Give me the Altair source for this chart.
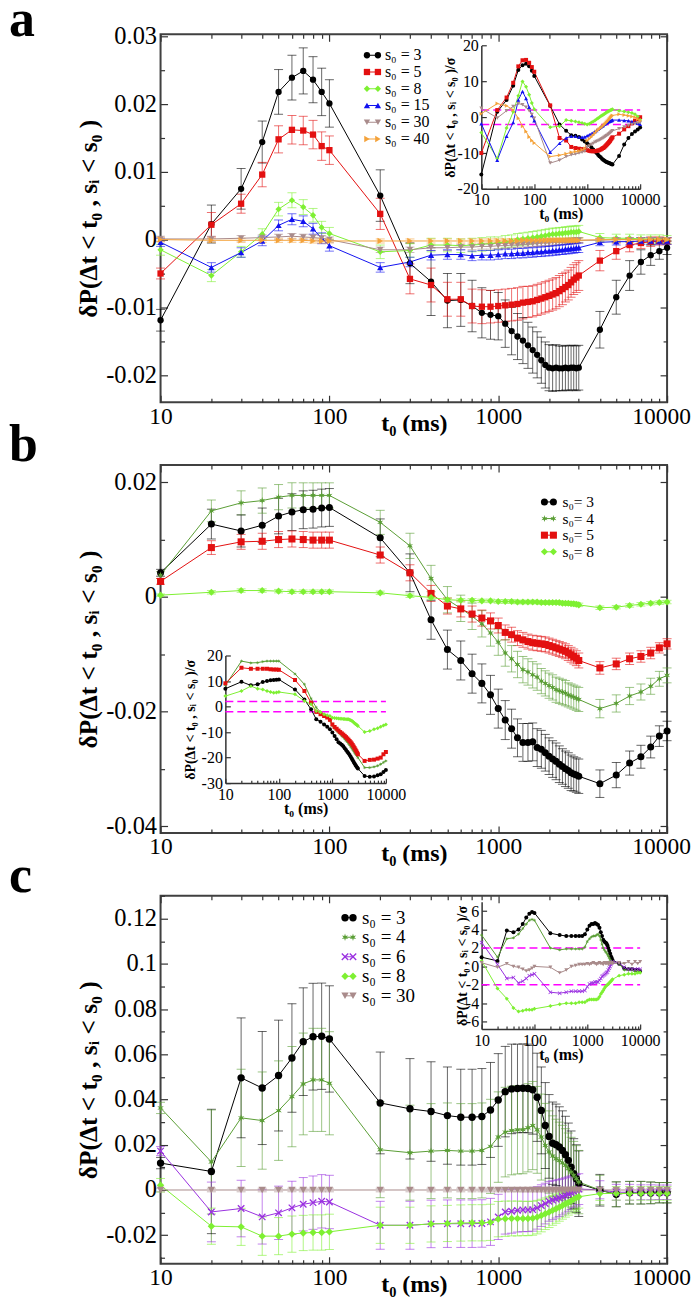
import altair as alt
import pandas as pd

FONT = "Liberation Serif"
W = 508

T = [10, 20, 30, 40, 50, 60, 70, 80, 90, 100,
     200, 300, 400, 500, 600, 700, 800, 900,
     1000, 1100, 1200, 1300, 1400, 1500, 1600, 1700, 1800, 1900, 2000,
     2100, 2200, 2300, 2400, 2500, 2600, 2700, 2800, 2900, 3000,
     4000, 5000, 6000, 7000, 8000, 9000, 10000]
X_LABELS = [10, 100, 1000, 10000]
X_TICKS = [10, 20, 30, 40, 50, 60, 70, 80, 90, 100, 200, 300, 400, 500, 600, 700, 800, 900,
           1000, 2000, 3000, 4000, 5000, 6000, 7000, 8000, 9000, 10000]

# ---------------- panel a ----------------
A_LABELS = ["s₀ = 3", "s₀ = 5", "s₀ = 8", "s₀ = 15", "s₀ = 30", "s₀ = 40"]
A3 = [-0.0119, 0.0023, 0.0075, 0.0144, 0.0218, 0.0239, 0.0249, 0.0236, 0.0218, 0.0201,
      0.0065, -0.0035, -0.0062, -0.0090, -0.0089, -0.0098, -0.0108, -0.0111,
      -0.0113, -0.0124, -0.0135, -0.0143, -0.0149, -0.0156, -0.0163, -0.0170, -0.0178, -0.0185, -0.0189,
      -0.0190, -0.0189, -0.0190, -0.0190, -0.0189, -0.0190, -0.0189, -0.0189, -0.0190, -0.0189,
      -0.0133, -0.0085, -0.0053, -0.0033, -0.0023, -0.0017, -0.0012]
A3E = [0.0016, 0.0028, 0.0030, 0.0031, 0.0033, 0.0033, 0.0034, 0.0034, 0.0035, 0.0035,
       0.0038, 0.0030, 0.0050, 0.0040, 0.0039, 0.0038, 0.0037, 0.0036,
       0.0035, 0.0035, 0.0035, 0.0034, 0.0034, 0.0034, 0.0034, 0.0034, 0.0034, 0.0034, 0.0034,
       0.0034, 0.0034, 0.0033, 0.0033, 0.0033, 0.0033, 0.0033, 0.0033, 0.0033, 0.0033,
       0.0027, 0.0025, 0.0022, 0.0018, 0.0015, 0.0012, 0.0010]
A5 = [-0.0050, 0.0022, 0.0053, 0.0096, 0.0148, 0.0162, 0.0161, 0.0155, 0.0138, 0.0132,
      0.0038, -0.0058, -0.0067, -0.0088, -0.0088, -0.0098, -0.0099, -0.0099,
      -0.0098, -0.0097, -0.0096, -0.0095, -0.0093, -0.0092, -0.0091, -0.0089, -0.0087, -0.0085, -0.0083,
      -0.0081, -0.0079, -0.0076, -0.0073, -0.0070, -0.0067, -0.0063, -0.0059, -0.0056, -0.0053,
      -0.0031, -0.0017, -0.0008, -0.0005, -0.0003, -0.0002, -0.0002]
A5E = [0.0008, 0.0018, 0.0014, 0.0018, 0.0020, 0.0021, 0.0021, 0.0021, 0.0021, 0.0021,
       0.0023, 0.0022, 0.0025, 0.0025, 0.0025, 0.0025, 0.0025, 0.0024,
       0.0024, 0.0024, 0.0024, 0.0024, 0.0024, 0.0023, 0.0023, 0.0023, 0.0023, 0.0023, 0.0023,
       0.0023, 0.0023, 0.0023, 0.0023, 0.0022, 0.0022, 0.0022, 0.0022, 0.0022, 0.0022,
       0.0015, 0.0012, 0.0010, 0.0008, 0.0007, 0.0006, 0.0005]
A8 = [-0.0015, -0.0053, -0.0018, 0.0008, 0.0045, 0.0058, 0.0048, 0.0036, 0.0018, 0.0009,
      -0.0018, -0.0016, -0.0008, -0.0008, -0.0009, -0.0008, -0.0007, -0.0006,
      -0.0005, -0.0003, -0.0002, 0.0000, 0.0001, 0.0002, 0.0003, 0.0004, 0.0005, 0.0006, 0.0007,
      0.0008, 0.0008, 0.0009, 0.0009, 0.0010, 0.0010, 0.0011, 0.0011, 0.0011, 0.0012,
      0.0003, 0.0002, 0.0002, 0.0001, 0.0001, 0.0001, 0.0000]
A8E = [0.0008, 0.0009, 0.0008, 0.0008, 0.0010, 0.0011, 0.0011, 0.0010, 0.0009, 0.0009,
       0.0010, 0.0010, 0.0010, 0.0010, 0.0010, 0.0010, 0.0010, 0.0010,
       0.0009, 0.0009, 0.0009, 0.0009, 0.0009, 0.0009, 0.0009, 0.0009, 0.0009, 0.0009, 0.0009,
       0.0009, 0.0009, 0.0009, 0.0009, 0.0009, 0.0009, 0.0009, 0.0009, 0.0009, 0.0009,
       0.0006, 0.0006, 0.0006, 0.0006, 0.0006, 0.0006, 0.0006]
A15 = [-0.0004, -0.0041, -0.0019, -0.0002, 0.0021, 0.0030, 0.0027, 0.0016, 0.0002, -0.0009,
       -0.0041, -0.0033, -0.0023, -0.0022, -0.0022, -0.0024, -0.0023, -0.0023,
       -0.0022, -0.0021, -0.0021, -0.0020, -0.0020, -0.0019, -0.0019, -0.0018, -0.0018, -0.0017, -0.0017,
       -0.0016, -0.0016, -0.0015, -0.0015, -0.0014, -0.0014, -0.0013, -0.0013, -0.0012, -0.0012,
       -0.0004, -0.0003, -0.0003, -0.0002, -0.0002, -0.0002, -0.0002]
A15E = [0.0006, 0.0007, 0.0007, 0.0007, 0.0008, 0.0008, 0.0008, 0.0008, 0.0008, 0.0008,
        0.0007, 0.0007, 0.0007, 0.0007, 0.0007, 0.0007, 0.0007, 0.0007,
        0.0007, 0.0007, 0.0007, 0.0007, 0.0007, 0.0007, 0.0007, 0.0007, 0.0007, 0.0007, 0.0007,
        0.0007, 0.0007, 0.0007, 0.0007, 0.0007, 0.0007, 0.0007, 0.0007, 0.0007, 0.0007,
        0.0005, 0.0005, 0.0005, 0.0005, 0.0005, 0.0005, 0.0005]
A30 = [0.0001, 0.0001, 0.0002, 0.0003, 0.0004, 0.0005, 0.0004, 0.0003, 0.0002, 0.0000,
       -0.0015, -0.0015, -0.0012, -0.0012, -0.0011, -0.0011, -0.0010, -0.0010,
       -0.0009, -0.0009, -0.0008, -0.0008, -0.0007, -0.0007, -0.0006, -0.0006, -0.0005, -0.0005, -0.0005,
       -0.0004, -0.0004, -0.0003, -0.0003, -0.0003, -0.0002, -0.0002, -0.0002, -0.0001, -0.0001,
       -0.0001, 0.0000, 0.0000, 0.0000, 0.0000, 0.0000, 0.0000]
A30E = [0.0004, 0.0004, 0.0004, 0.0004, 0.0004, 0.0004, 0.0004, 0.0004, 0.0004, 0.0004,
        0.0004, 0.0004, 0.0004, 0.0004, 0.0004, 0.0004, 0.0004, 0.0004,
        0.0004, 0.0004, 0.0004, 0.0004, 0.0004, 0.0004, 0.0004, 0.0004, 0.0004, 0.0004, 0.0004,
        0.0004, 0.0004, 0.0004, 0.0004, 0.0004, 0.0004, 0.0004, 0.0004, 0.0004, 0.0004,
        0.0003, 0.0003, 0.0003, 0.0003, 0.0003, 0.0003, 0.0003]
A40 = [0.0000, -0.0001, -0.0001, -0.0001, -0.0001, -0.0001, -0.0001, -0.0002, -0.0002, -0.0002,
       -0.0002, -0.0002, -0.0002, -0.0002, -0.0002, -0.0002, -0.0002, -0.0002,
       -0.0002, -0.0002, -0.0002, -0.0002, -0.0001, -0.0001, -0.0001, -0.0001, -0.0001, -0.0001, -0.0001,
       -0.0001, -0.0001, -0.0001, -0.0001, -0.0001, -0.0001, -0.0001, -0.0001, -0.0001, -0.0001,
       0.0000, 0.0000, 0.0000, 0.0000, 0.0000, 0.0000, 0.0000]
A40E = [0.0003, 0.0003, 0.0003, 0.0003, 0.0003, 0.0003, 0.0003, 0.0003, 0.0003, 0.0003,
        0.0003, 0.0003, 0.0003, 0.0003, 0.0003, 0.0003, 0.0003, 0.0003,
        0.0003, 0.0003, 0.0003, 0.0003, 0.0003, 0.0003, 0.0003, 0.0003, 0.0003, 0.0003, 0.0003,
        0.0003, 0.0003, 0.0003, 0.0003, 0.0003, 0.0003, 0.0003, 0.0003, 0.0003, 0.0003,
        0.0002, 0.0002, 0.0002, 0.0002, 0.0002, 0.0002, 0.0002]
# inset a (in units of sigma)
IA3 = [-16.0, 1.5, 4.8, 8.8, 13.2, 14.5, 14.9, 14.2, 13.0, 11.5,
       3.2, -2.0, -3.8, -5.0, -5.2, -5.5, -6.2, -6.8,
       -7.3, -7.8, -8.4, -9.0, -9.6, -10.0, -10.5, -10.9, -11.2, -11.6, -11.9,
       -12.1, -12.3, -12.5, -12.6, -12.7, -12.8, -12.9, -13.0, -13.1, -13.2,
       -10.8, -7.6, -5.8, -4.7, -4.0, -3.4, -2.9]
IA5 = [-10.0, 2.0, 5.5, 9.6, 14.2, 15.9, 16.0, 15.2, 14.0, 12.7,
       3.3, -5.8, -6.5, -8.3, -8.6, -8.8, -8.9, -9.0,
       -9.2, -9.4, -9.5, -9.5, -9.5, -9.4, -9.3, -9.2, -9.0, -8.8, -8.6,
       -8.4, -8.1, -7.8, -7.5, -7.2, -6.9, -6.6, -6.2, -5.9, -5.6,
       -4.6, -3.4, -2.5, -1.7, -1.0, -0.5, 0.0]
IA8 = [-4.3, -11.5, -3.0, 1.5, 6.0, 10.0, 8.5, 6.3, 4.0, 2.2,
       -2.8, -2.5, -0.8, -1.0, -1.2, -1.4, -1.6, -1.8,
       -2.0, -1.8, -1.5, -1.2, -0.9, -0.6, -0.3, 0.0, 0.3, 0.5, 0.7,
       0.9, 1.1, 1.3, 1.5, 1.6, 1.8, 1.9, 2.0, 2.1, 2.2,
       1.8, 1.6, 1.4, 1.2, 0.8, 0.2, -0.8]
IA15 = [-1.8, -12.0, -5.3, -1.5, 4.8, 7.2, 5.2, 2.8, 0.5, -1.0,
        -9.8, -7.3, -5.8, -5.3, -5.3, -5.5, -5.6, -5.5,
        -5.2, -4.9, -4.6, -4.3, -4.0, -3.7, -3.4, -3.1, -2.8, -2.5, -2.3,
        -2.0, -1.8, -1.6, -1.4, -1.3, -1.2, -1.1, -1.0, -0.9, -0.8,
        -0.8, -0.9, -1.0, -1.2, -1.4, -1.7, -2.0]
IA30 = [2.5, -0.2, 1.8, 3.0, 3.8, 3.5, 2.8, 1.8, 0.8, -0.3,
        -12.8, -12.0, -11.0, -10.5, -10.3, -10.0, -9.8, -9.5,
        -8.4, -8.0, -7.6, -7.3, -7.0, -6.8, -6.6, -6.4, -6.2, -6.0, -5.8,
        -5.6, -5.4, -5.2, -5.0, -4.8, -4.6, -4.4, -4.2, -4.0, -3.8,
        -3.2, -2.7, -2.3, -2.0, -1.8, -1.6, -1.5]
IA40 = [1.0, 3.8, 3.2, 2.0, -0.3, -2.5, -4.0, -5.5, -6.5, -7.2,
        -11.0, -10.6, -10.2, -9.8, -9.6, -9.4, -9.1, -8.7,
        -6.5, -6.0, -5.5, -5.0, -4.5, -4.0, -3.6, -3.3, -3.0, -2.7, -2.4,
        -2.1, -1.8, -1.5, -1.2, -0.9, -0.6, -0.3, 0.0, 0.3, 0.5,
        0.8, 0.6, 0.4, 0.2, 0.0, -0.5, -1.0]

# ---------------- panel b ----------------
B_LABELS = ["s₀= 3", "s₀= 4", "s₀= 5", "s₀= 8"]
B3 = [0.0042, 0.0127, 0.0115, 0.0125, 0.0141, 0.0148, 0.0152, 0.0153, 0.0155, 0.0156,
      0.0103, 0.0042, -0.0040, -0.0092, -0.0111, -0.0134, -0.0151, -0.0171,
      -0.0195, -0.0215, -0.0230, -0.0246, -0.0254, -0.0254, -0.0253, -0.0263, -0.0266, -0.0272, -0.0278,
      -0.0283, -0.0287, -0.0292, -0.0296, -0.0300, -0.0303, -0.0307, -0.0309, -0.0311, -0.0313,
      -0.0326, -0.0311, -0.0290, -0.0279, -0.0262, -0.0243, -0.0234]
B3E = [0.0006, 0.0026, 0.0028, 0.0030, 0.0031, 0.0032, 0.0033, 0.0033, 0.0033, 0.0033,
       0.0033, 0.0033, 0.0034, 0.0034, 0.0034, 0.0034, 0.0034, 0.0034,
       0.0034, 0.0034, 0.0034, 0.0033, 0.0033, 0.0033, 0.0033, 0.0033, 0.0033, 0.0032, 0.0032,
       0.0032, 0.0032, 0.0032, 0.0031, 0.0031, 0.0031, 0.0031, 0.0030, 0.0030, 0.0030,
       0.0024, 0.0022, 0.0021, 0.0020, 0.0019, 0.0018, 0.0017]
B4 = [0.0038, 0.0150, 0.0164, 0.0168, 0.0174, 0.0177, 0.0177, 0.0177, 0.0177, 0.0177,
      0.0130, 0.0089, 0.0032, -0.0005, -0.0020, -0.0034, -0.0047, -0.0063,
      -0.0079, -0.0098, -0.0108, -0.0118, -0.0127, -0.0131, -0.0136, -0.0140, -0.0147, -0.0151, -0.0155,
      -0.0158, -0.0162, -0.0164, -0.0166, -0.0168, -0.0171, -0.0173, -0.0175, -0.0177, -0.0179,
      -0.0195, -0.0186, -0.0173, -0.0166, -0.0156, -0.0143, -0.0137]
B4E = [0.0006, 0.0019, 0.0021, 0.0022, 0.0022, 0.0022, 0.0022, 0.0022, 0.0022, 0.0022,
       0.0021, 0.0022, 0.0023, 0.0023, 0.0023, 0.0023, 0.0023, 0.0023,
       0.0023, 0.0023, 0.0023, 0.0023, 0.0023, 0.0023, 0.0023, 0.0023, 0.0022, 0.0022, 0.0022,
       0.0022, 0.0022, 0.0022, 0.0022, 0.0022, 0.0021, 0.0021, 0.0021, 0.0021, 0.0021,
       0.0016, 0.0015, 0.0015, 0.0014, 0.0014, 0.0013, 0.0013]
B5 = [0.0027, 0.0086, 0.0096, 0.0097, 0.0100, 0.0101, 0.0100, 0.0099, 0.0099, 0.0099,
      0.0073, 0.0042, 0.0006, -0.0016, -0.0021, -0.0030, -0.0037, -0.0042,
      -0.0050, -0.0062, -0.0066, -0.0072, -0.0075, -0.0078, -0.0080, -0.0081, -0.0082, -0.0083, -0.0085,
      -0.0087, -0.0089, -0.0091, -0.0093, -0.0095, -0.0098, -0.0101, -0.0104, -0.0107, -0.0111,
      -0.0124, -0.0117, -0.0108, -0.0104, -0.0098, -0.0089, -0.0082]
B5E = [0.0005, 0.0012, 0.0013, 0.0014, 0.0014, 0.0014, 0.0014, 0.0014, 0.0014, 0.0014,
       0.0014, 0.0014, 0.0014, 0.0014, 0.0014, 0.0014, 0.0014, 0.0014,
       0.0013, 0.0013, 0.0013, 0.0013, 0.0013, 0.0013, 0.0013, 0.0013, 0.0013, 0.0013, 0.0013,
       0.0013, 0.0013, 0.0013, 0.0013, 0.0013, 0.0013, 0.0013, 0.0013, 0.0013, 0.0013,
       0.0011, 0.0010, 0.0010, 0.0010, 0.0010, 0.0009, 0.0009]
B8 = [0.0003, 0.0008, 0.0011, 0.0011, 0.0010, 0.0009, 0.0009, 0.0009, 0.0009, 0.0009,
      0.0007, 0.0002, -0.0001, -0.0005, -0.0006, -0.0006, -0.0007, -0.0007,
      -0.0008, -0.0008, -0.0008, -0.0009, -0.0009, -0.0009, -0.0009, -0.0009, -0.0010, -0.0010, -0.0010,
      -0.0010, -0.0010, -0.0010, -0.0011, -0.0011, -0.0011, -0.0012, -0.0012, -0.0013, -0.0014,
      -0.0019, -0.0018, -0.0015, -0.0013, -0.0011, -0.0010, -0.0009]
B8E = [0.0002, 0.0003, 0.0003, 0.0003, 0.0003, 0.0003, 0.0003, 0.0003, 0.0003, 0.0003,
       0.0003, 0.0003, 0.0003, 0.0003, 0.0003, 0.0003, 0.0003, 0.0003,
       0.0003, 0.0003, 0.0003, 0.0003, 0.0003, 0.0003, 0.0003, 0.0003, 0.0003, 0.0003, 0.0003,
       0.0003, 0.0003, 0.0003, 0.0003, 0.0003, 0.0003, 0.0003, 0.0003, 0.0003, 0.0003,
       0.0003, 0.0003, 0.0003, 0.0003, 0.0003, 0.0003, 0.0003]
IB3 = [7.0, 9.7, 8.3, 8.7, 9.6, 10.0, 10.3, 10.4, 10.5, 10.6,
       6.7, 2.8, -1.1, -5.0, -6.0, -7.0, -7.9, -8.9,
       -10.2, -11.5, -12.8, -14.0, -14.5, -15.0, -15.6, -16.3, -17.0, -17.7, -18.3,
       -19.0, -19.7, -20.4, -21.0, -21.7, -22.3, -22.9, -23.4, -23.9, -24.3,
       -27.2, -27.5, -27.4, -26.9, -26.5, -25.6, -24.9]
IB4 = [8.3, 17.8, 17.1, 17.2, 17.6, 17.8, 17.8, 17.8, 17.8, 17.8,
       12.8, 8.7, 3.1, -0.4, -2.1, -3.1, -4.0, -5.6,
       -7.6, -8.6, -9.4, -10.2, -10.9, -11.5, -12.1, -12.7, -13.3, -13.9, -14.5,
       -15.1, -15.7, -16.3, -16.9, -17.5, -18.0, -18.5, -19.0, -19.5, -20.0,
       -23.9, -23.9, -23.6, -23.2, -22.6, -21.9, -21.3]
IB5 = [9.1, 15.2, 14.8, 14.8, 14.8, 14.8, 14.6, 14.5, 14.5, 14.4,
       10.4, 6.1, 1.5, -2.1, -3.0, -3.7, -4.3, -5.2,
       -7.0, -8.0, -8.7, -9.4, -10.0, -10.5, -11.0, -11.5, -12.0, -12.5, -13.0,
       -13.5, -14.0, -14.5, -15.1, -15.7, -16.3, -16.9, -17.5, -18.1, -18.7,
       -21.3, -20.9, -20.8, -20.4, -20.0, -18.7, -17.8]
IB8 = [4.1, 6.1, 8.0, 7.0, 6.7, 6.1, 5.7, 5.4, 5.5, 5.7,
       4.8, 2.2, 0.9, -1.7, -2.2, -3.0, -3.4, -3.7,
       -4.4, -4.5, -4.6, -4.7, -4.8, -4.8, -4.9, -4.9, -5.0, -5.0, -5.0,
       -5.2, -5.4, -5.6, -5.9, -6.2, -6.5, -6.8, -7.0, -7.3, -7.6,
       -10.0, -9.6, -8.9, -8.5, -7.9, -7.4, -7.0]

# ---------------- panel c ----------------
C_LABELS = ["s₀ = 3", "s₀ = 4", "s₀ = 6", "s₀ = 8", "s₀ = 30"]
C3 = [0.0119, 0.0082, 0.0496, 0.0451, 0.0506, 0.0584, 0.0656, 0.0678, 0.0680, 0.0668,
      0.0385, 0.0359, 0.0347, 0.0329, 0.0322, 0.0322, 0.0325, 0.0354,
      0.0398, 0.0435, 0.0447, 0.0449, 0.0450, 0.0449, 0.0443, 0.0410, 0.0352, 0.0285, 0.0237,
      0.0207, 0.0200, 0.0190, 0.0175, 0.0156, 0.0131, 0.0101, 0.0072, 0.0050, 0.0028,
      -0.0001, -0.0019, -0.0012, -0.0012, -0.0013, -0.0012, -0.0012]
C3E = [0.0025, 0.0275, 0.0265, 0.0250, 0.0245, 0.0240, 0.0238, 0.0236, 0.0235, 0.0235,
       0.0225, 0.0222, 0.0220, 0.0215, 0.0212, 0.0212, 0.0212, 0.0210,
       0.0205, 0.0200, 0.0198, 0.0196, 0.0196, 0.0196, 0.0196, 0.0195, 0.0192, 0.0190, 0.0185,
       0.0182, 0.0180, 0.0178, 0.0175, 0.0170, 0.0165, 0.0160, 0.0155, 0.0150, 0.0145,
       0.0070, 0.0055, 0.0050, 0.0050, 0.0048, 0.0045, 0.0045]
C4 = [0.0363, 0.0124, 0.0319, 0.0307, 0.0351, 0.0413, 0.0469, 0.0487, 0.0487, 0.0472,
      0.0178, 0.0165, 0.0172, 0.0175, 0.0172, 0.0172, 0.0175, 0.0193,
      0.0234, 0.0256, 0.0263, 0.0266, 0.0267, 0.0275, 0.0285, 0.0266, 0.0234, 0.0197, 0.0168,
      0.0150, 0.0138, 0.0130, 0.0120, 0.0109, 0.0094, 0.0079, 0.0065, 0.0050, 0.0035,
      0.0000, -0.0019, -0.0012, -0.0012, -0.0012, -0.0012, -0.0012]
C4E = [0.0025, 0.0230, 0.0215, 0.0215, 0.0220, 0.0222, 0.0225, 0.0228, 0.0228, 0.0228,
       0.0212, 0.0210, 0.0210, 0.0210, 0.0210, 0.0210, 0.0210, 0.0208,
       0.0200, 0.0198, 0.0196, 0.0195, 0.0195, 0.0195, 0.0195, 0.0192, 0.0190, 0.0186, 0.0182,
       0.0178, 0.0175, 0.0170, 0.0166, 0.0162, 0.0158, 0.0154, 0.0150, 0.0146, 0.0140,
       0.0065, 0.0055, 0.0050, 0.0050, 0.0048, 0.0045, 0.0045]
C6 = [0.0172, -0.0097, -0.0082, -0.0119, -0.0101, -0.0079, -0.0063, -0.0056, -0.0050, -0.0053,
      -0.0156, -0.0156, -0.0150, -0.0149, -0.0149, -0.0149, -0.0148, -0.0141,
      -0.0119, -0.0097, -0.0094, -0.0090, -0.0088, -0.0088, -0.0087, -0.0079, -0.0069, -0.0060, -0.0050,
      -0.0045, -0.0040, -0.0035, -0.0030, -0.0024, -0.0018, -0.0012, -0.0006, -0.0001, 0.0004,
      0.0001, -0.0010, -0.0010, -0.0010, -0.0010, -0.0010, -0.0010]
C6E = [0.0020, 0.0132, 0.0125, 0.0120, 0.0118, 0.0118, 0.0118, 0.0118, 0.0118, 0.0118,
       0.0106, 0.0106, 0.0105, 0.0105, 0.0105, 0.0105, 0.0105, 0.0104,
       0.0100, 0.0098, 0.0097, 0.0096, 0.0096, 0.0096, 0.0095, 0.0094, 0.0092, 0.0090, 0.0088,
       0.0086, 0.0084, 0.0082, 0.0080, 0.0078, 0.0076, 0.0074, 0.0072, 0.0070, 0.0068,
       0.0040, 0.0035, 0.0035, 0.0033, 0.0033, 0.0032, 0.0032]
C8 = [0.0021, -0.0160, -0.0163, -0.0204, -0.0204, -0.0195, -0.0190, -0.0188, -0.0188, -0.0185,
      -0.0156, -0.0156, -0.0150, -0.0148, -0.0146, -0.0145, -0.0145, -0.0143,
      -0.0129, -0.0127, -0.0126, -0.0126, -0.0126, -0.0126, -0.0125, -0.0120, -0.0113, -0.0105, -0.0098,
      -0.0090, -0.0083, -0.0076, -0.0069, -0.0062, -0.0055, -0.0048, -0.0041, -0.0035, -0.0030,
      -0.0016, -0.0015, -0.0015, -0.0015, -0.0015, -0.0015, -0.0015]
C8E = [0.0030, 0.0080, 0.0082, 0.0085, 0.0082, 0.0080, 0.0078, 0.0078, 0.0078, 0.0078,
       0.0080, 0.0080, 0.0080, 0.0080, 0.0080, 0.0080, 0.0080, 0.0080,
       0.0078, 0.0078, 0.0077, 0.0077, 0.0076, 0.0076, 0.0075, 0.0074, 0.0072, 0.0070, 0.0068,
       0.0066, 0.0064, 0.0062, 0.0060, 0.0058, 0.0056, 0.0054, 0.0052, 0.0051, 0.0050,
       0.0030, 0.0030, 0.0030, 0.0030, 0.0030, 0.0030, 0.0030]
C30 = [0.0000, 0.0000, 0.0000, 0.0000, 0.0000, 0.0000, 0.0000, 0.0000, 0.0000, 0.0000,
       0.0000, 0.0000, 0.0000, 0.0000, 0.0000, 0.0000, 0.0000, 0.0000,
       0.0000, 0.0000, 0.0000, 0.0000, 0.0000, 0.0000, 0.0000, 0.0000, 0.0000, 0.0000, 0.0000,
       0.0000, 0.0000, 0.0000, 0.0000, 0.0000, 0.0000, 0.0000, 0.0000, 0.0000, 0.0000,
       0.0000, 0.0000, 0.0000, 0.0000, 0.0000, 0.0000, 0.0000]
C30E = [0.0008, 0.0008, 0.0008, 0.0008, 0.0008, 0.0008, 0.0008, 0.0008, 0.0008, 0.0008,
        0.0008, 0.0008, 0.0008, 0.0008, 0.0008, 0.0008, 0.0008, 0.0008,
        0.0008, 0.0008, 0.0008, 0.0008, 0.0008, 0.0008, 0.0008, 0.0008, 0.0008, 0.0008, 0.0008,
        0.0008, 0.0008, 0.0008, 0.0008, 0.0008, 0.0008, 0.0008, 0.0008, 0.0008, 0.0008,
        0.0006, 0.0006, 0.0006, 0.0006, 0.0006, 0.0006, 0.0006]
IC3 = [1.0, 0.6, 3.9, 3.7, 4.0, 4.6, 5.3, 5.7, 5.9, 5.8,
       3.6, 3.4, 3.3, 3.3, 3.3, 3.3, 3.3, 3.5,
       4.0, 4.4, 4.6, 4.6, 4.7, 4.6, 4.5, 4.2, 3.7, 3.3, 2.9,
       2.7, 2.6, 2.5, 2.3, 2.0, 1.7, 1.4, 1.1, 0.9, 0.7,
       0.3, -0.2, -0.3, -0.3, -0.4, -0.4, -0.5]
IC4 = [3.4, 1.0, 3.0, 3.1, 3.5, 4.1, 4.6, 5.0, 5.1, 5.0,
       2.0, 1.8, 1.9, 1.9, 1.9, 1.9, 1.9, 2.1,
       2.7, 3.0, 3.2, 3.3, 3.3, 3.4, 3.5, 3.3, 2.9, 2.4, 2.0,
       1.8, 1.6, 1.5, 1.3, 1.1, 0.9, 0.7, 0.6, 0.5, 0.4,
       0.3, -0.4, -0.4, -0.4, -0.5, -0.5, -0.6]
IC6 = [2.6, 0.2, -1.3, -1.2, -1.8, -1.6, -1.3, -1.0, -0.9, -0.8,
       -2.8, -2.9, -2.8, -2.7, -2.7, -2.7, -2.7, -2.6,
       -2.2, -1.9, -1.8, -1.8, -1.7, -1.7, -1.7, -1.5, -1.3, -1.1, -1.0,
       -0.9, -0.8, -0.7, -0.6, -0.4, -0.2, 0.0, 0.2, 0.4, 0.5,
       0.4, -0.1, -0.3, -0.3, -0.3, -0.3, -0.3]
IC8 = [0.6, -2.4, -3.5, -4.5, -4.9, -4.8, -4.7, -4.7, -4.7, -4.6,
       -4.3, -4.1, -4.0, -4.0, -4.0, -3.9, -3.9, -3.9,
       -3.7, -3.6, -3.6, -3.6, -3.6, -3.6, -3.5, -3.3, -3.0, -2.8, -2.6,
       -2.4, -2.2, -2.1, -2.0, -1.9, -1.8, -1.7, -1.6, -1.5, -1.4,
       -1.0, -0.9, -0.8, -0.8, -0.8, -0.7, -0.7]
IC30 = [0.4, -0.1, 0.3, 0.0, -0.1, -0.3, -0.5, -0.4, -0.2, 0.0,
        -0.1, -0.7, -0.4, 0.0, 0.1, 0.2, 0.2, 0.2,
        0.3, 0.2, 0.3, 0.4, 0.3, 0.2, 0.3, 0.4, 0.3, 0.3, 0.2,
        0.4, 0.3, 0.3, 0.4, 0.2, 0.3, 0.4, 0.3, 0.4, 0.3,
        0.4, 0.3, 0.5, 0.2, 0.5, 0.3, 0.5]

SIGMA_LINES = [-2, 2]

# ---------------- styling ----------------
BLACK = "#000000"
RED = "#e31010"
LGREEN = "#7ef032"
BLUE = "#1212f0"
BROWN = "#a98b8b"
ORANGE = "#f4a23a"
DGREEN = "#5a9e35"
PURPLE = "#9a30e0"
MAGENTA = "#ff00ff"
ASTER = ("M0,-1L0.2,-0.33L0.87,-0.5L0.38,0L0.87,0.5L0.2,0.33L0,1L-0.2,0.33"
         "L-0.87,0.5L-0.38,0L-0.87,-0.5L-0.2,-0.33Z")
XMARK = ("M-1,-0.75L-0.75,-1L0,-0.25L0.75,-1L1,-0.75L0.25,0L1,0.75L0.75,1"
         "L0,0.25L-0.75,1L-1,0.75L-0.25,0Z")
YTITLE = "δP(Δt < t₀ , sᵢ < s₀ )"
ITITLE = "δP(Δt < t₀ , sᵢ < s₀ )/σ"
XTITLE = "t₀ (ms)"
LABEL_EXPR = "(datum.value < 0 ? '-' : '') + format(abs(datum.value), '.2~f')"
ILABEL_EXPR = "(datum.value < 0 ? '-' : '') + format(abs(datum.value), 'd')"
XTEST = "abs(log(datum.value)/LN10 - round(log(datum.value)/LN10)) < 0.001"

for arr in [A3, A3E, A5, A5E, A8, A8E, A15, A15E, A30, A30E, A40, A40E, IA3, IA5, IA8, IA15, IA30, IA40,
            B3, B3E, B4, B4E, B5, B5E, B8, B8E, IB3, IB4, IB5, IB8,
            C3, C3E, C4, C4E, C6, C6E, C8, C8E, C30, C30E, IC3, IC4, IC6, IC8, IC30]:
    assert len(arr) == len(T), len(arr)


def cond(test, big, small):
    return {"condition": {"test": test, "value": big}, "value": small}


def tick_axis(orient, offset, values, test, big, small):
    return alt.Axis(orient=orient, offset=offset, values=values, labels=False, domain=False,
                    grid=False, title=None, ticks=True, tickSize=cond(test, big, small),
                    tickColor="#333333", tickWidth=1.2)


def panel(letter, lety, labels, colors, shapes, vals, errs, ivals, H, ydom, ylabels, yticks, mult,
          inset, legend, ptsize):
    rows = []
    for lab, v, e in zip(labels, vals, errs):
        for t, vi, ei in zip(T, v, e):
            rows.append({"t": t, "v": vi, "lo": vi - ei, "hi": vi + ei, "s": lab})
    df = pd.DataFrame(rows)
    irows = []
    for lab, v in zip(labels, ivals):
        for t, vi in zip(T, v):
            irows.append({"t": t, "z": vi, "s": lab})
    idf = pd.DataFrame(irows)

    xs = alt.Scale(type="log", domain=[10, 10000], nice=False)
    ys = alt.Scale(domain=ydom, nice=False, zero=False)
    cs = alt.Scale(domain=labels, range=colors)
    ss = alt.Scale(domain=labels, range=shapes)
    xax = alt.Axis(orient="bottom", values=X_LABELS, format="d", labelFont=FONT,
                   labelFontSize=23.5, labelColor="black", labelPadding=2, labelFlush=False,
                   labelOverlap=False,
                   labelOffset={"condition": {"test": "datum.value >= 9999", "value": -6},
                                "value": 0},
                   ticks=False, domain=False, grid=False, title=XTITLE, titleFont=FONT,
                   titleFontSize=24, titleFontWeight="bold", titleColor="black",
                   titleX=W / 2, titleY=28, titleBaseline="alphabetic", titleAlign="center")
    yax = alt.Axis(orient="left", values=ylabels, labelExpr=LABEL_EXPR, labelFont=FONT,
                   labelFontSize=24.5, labelColor="black", labelPadding=4, labelOverlap=False,
                   ticks=False, domain=False, grid=False, title=YTITLE, titleFont=FONT,
                   titleFontSize=25.5, titleFontWeight="bold", titleColor="black",
                   titleX=-72, titleY=H / 2, titleAngle=270, titleAlign="center",
                   titleBaseline="middle")
    X = alt.X("t:Q", scale=xs, axis=xax)
    C = alt.Color("s:N", scale=cs, legend=None)
    S = alt.Shape("s:N", scale=ss, legend=None)
    base = alt.Chart(df)
    rules = base.mark_rule(strokeWidth=1, opacity=0.6).encode(
        x=X, y=alt.Y("lo:Q", scale=ys, axis=yax), y2="hi:Q", color=C)
    cap_lo = base.mark_tick(orient="horizontal", size=9, thickness=1, opacity=0.6).encode(
        x=X, y=alt.Y("lo:Q", scale=ys, axis=yax), color=C)
    cap_hi = base.mark_tick(orient="horizontal", size=9, thickness=1, opacity=0.6).encode(
        x=X, y=alt.Y("hi:Q", scale=ys, axis=yax), color=C)
    lines = base.mark_line(strokeWidth=1).encode(
        x=X, y=alt.Y("v:Q", scale=ys, axis=yax), color=C)
    pts = base.mark_point(filled=True, size=ptsize, opacity=1).encode(
        x=X, y=alt.Y("v:Q", scale=ys, axis=yax), color=C, shape=S)
    main = alt.layer(rules, cap_lo, cap_hi, lines, pts)

    one = pd.DataFrame({"t": [10], "v": [ydom[0]]})
    ytest = f"abs(datum.value*{mult} - round(datum.value*{mult})) < 0.001"
    tA = alt.Chart(one).mark_point(opacity=0).encode(
        x=alt.X("t:Q", scale=xs, axis=tick_axis("top", -H, X_TICKS, XTEST, 7, 4)),
        y=alt.Y("v:Q", scale=ys, axis=tick_axis("right", -W, yticks, ytest, 7, 4)))
    tB = alt.Chart(one).mark_point(opacity=0).encode(
        x=alt.X("t:Q", scale=xs, axis=tick_axis("bottom", -H, X_TICKS, XTEST, 7, 4)),
        y=alt.Y("v:Q", scale=ys, axis=tick_axis("left", -W, yticks, ytest, 7, 4)))

    # inset
    rx0, rx1, ry0, ry1 = inset["rect"]
    ixs = alt.Scale(type="log", domain=[10, 10000], range=[rx0, rx1], nice=False)
    iys = alt.Scale(domain=inset["ydom"], range=[ry0, ry1], nice=False, zero=False)
    ixax = alt.Axis(orient="bottom", offset=-(H - ry0), values=X_LABELS, format="d",
                    labelFont=FONT, labelFontSize=16, labelColor="black", labelPadding=3,
                    labelFlush=False, labelOverlap=False, ticks=False, domain=True,
                    domainColor="#333333", domainWidth=1.5, grid=False, title=XTITLE,
                    titleFont=FONT, titleFontSize=16, titleFontWeight="bold", titleColor="black",
                    titleX=(rx0 + rx1) / 2, titleY=30, titleBaseline="alphabetic",
                    titleAlign="center")
    iyax = alt.Axis(orient="left", offset=-rx0, values=inset["yvals"], labelExpr=ILABEL_EXPR,
                    labelFont=FONT, labelFontSize=16, labelColor="black", labelPadding=3,
                    labelOverlap=False, ticks=False, domain=True, domainColor="#333333",
                    domainWidth=1.5, grid=False, title=ITITLE, titleFont=FONT, titleFontSize=14,
                    titleFontWeight="bold", titleColor="black", titleX=inset["tdx"],
                    titleY=(ry0 + ry1) / 2, titleAngle=270, titleAlign="center",
                    titleBaseline="middle")
    IX = alt.X("t:Q", scale=ixs, axis=ixax)
    IY = alt.Y("z:Q", scale=iys, axis=iyax)
    ibase = alt.Chart(idf)
    ilines = ibase.mark_line(strokeWidth=1).encode(x=IX, y=IY, color=C)
    ipts = ibase.mark_point(filled=True, size=16, opacity=1).encode(x=IX, y=IY, color=C, shape=S)
    ddf = pd.DataFrame({"x0": [10, 10], "x1": [10000, 10000], "z": SIGMA_LINES})
    idash = alt.Chart(ddf).mark_rule(color=MAGENTA, strokeWidth=1.5, strokeDash=[8, 4]).encode(
        x=alt.X("x0:Q", scale=ixs, axis=ixax), x2="x1:Q",
        y=alt.Y("z:Q", scale=iys, axis=iyax))
    imain = alt.layer(idash, ilines, ipts)
    ione = pd.DataFrame({"t": [10], "z": [inset["ydom"][0]]})
    iticks = alt.Chart(ione).mark_point(opacity=0).encode(
        x=alt.X("t:Q", scale=ixs, axis=tick_axis("top", -ry0, X_TICKS, XTEST, 5, 3)),
        y=alt.Y("z:Q", scale=iys, axis=tick_axis("right", -(W - rx0), inset["yvals"],
                                                 "true", 5, 5)))

    # legend: two joined markers + label per entry
    n = len(labels)
    ldf = pd.DataFrame([{"s": lab, "i": i, "k": k} for i, lab in enumerate(labels) for k in (0, 1)])
    lxs = alt.Scale(domain=[0, 1], range=[legend["x0"], legend["x1"]], nice=False, zero=False)
    lys = alt.Scale(domain=[0, n - 1], range=[legend["y0"], legend["y1"]], nice=False, zero=False)
    LX = alt.X("k:Q", scale=lxs, axis=None)
    LY = alt.Y("i:Q", scale=lys, axis=None)
    lbase = alt.Chart(ldf)
    lline = lbase.mark_line(strokeWidth=1).encode(x=LX, y=LY, color=C, detail="s:N")
    lpts = lbase.mark_point(filled=True, size=ptsize, opacity=1).encode(
        x=LX, y=LY, color=C, shape=S)
    ltxt = lbase.transform_filter("datum.k == 1").mark_text(
        align="left", baseline="middle", dx=legend["dx"], font=FONT, fontSize=legend["fs"],
        color="black").encode(x=LX, y=LY, text="s:N")
    leg = alt.layer(lline, lpts, ltxt)

    # panel letter
    letdf = pd.DataFrame({"k": [0], "i": [0], "txt": [letter]})
    let = alt.Chart(letdf).mark_text(
        align="left", baseline="alphabetic", font=FONT, fontSize=52, fontWeight="bold",
        color="black").encode(
        x=alt.X("k:Q", scale=alt.Scale(domain=[0, 1], range=[-152, -151]), axis=None),
        y=alt.Y("i:Q", scale=alt.Scale(domain=[0, 1], range=[lety, lety + 1]), axis=None),
        text="txt:N")

    return alt.layer(main, tA, tB, imain, iticks, leg, let).resolve_scale(
        x="independent", y="independent").properties(width=W, height=H)


pa = panel("a", 2, A_LABELS, [BLACK, RED, LGREEN, BLUE, BROWN, ORANGE],
           ["circle", "square", "diamond", "triangle-up", "triangle-down", "triangle-right"],
           [A3, A5, A8, A15, A30, A40], [A3E, A5E, A8E, A15E, A30E, A40E],
           [IA3, IA5, IA8, IA15, IA30, IA40],
           369, [-0.0240, 0.0303], [-0.02, -0.01, 0, 0.01, 0.02, 0.03],
           [-0.02, -0.015, -0.01, -0.005, 0, 0.005, 0.01, 0.015, 0.02, 0.025, 0.03], 100,
           {"rect": [321.7, 481, 155, 11.3], "ydom": [-20, 20], "yvals": [-20, -10, 0, 10, 20],
            "tdx": -31},
           {"x0": 207, "x1": 218, "y0": 21, "y1": 105, "dx": 7, "fs": 16}, 40)

pb = panel("b", -4, B_LABELS, [BLACK, DGREEN, RED, LGREEN],
           ["circle", ASTER, "square", "diamond"],
           [B3, B4, B5, B8], [B3E, B4E, B5E, B8E], [IB3, IB4, IB5, IB8],
           369, [-0.0412, 0.0230], [-0.04, -0.02, 0, 0.02],
           [-0.04, -0.03, -0.02, -0.01, 0, 0.01, 0.02], 50,
           {"rect": [65, 226, 319, 191], "ydom": [-30, 20],
            "yvals": [-30, -20, -10, 0, 10, 20], "tdx": -35},
           {"x0": 385, "x1": 394, "y0": 37, "y1": 87, "dx": 9, "fs": 15.5}, 50)

pc = panel("c", -4, C_LABELS, [BLACK, DGREEN, PURPLE, LGREEN, BROWN],
           ["circle", ASTER, XMARK, "diamond", "triangle-down"],
           [C3, C4, C6, C8, C30], [C3E, C4E, C6E, C8E, C30E], [IC3, IC4, IC6, IC8, IC30],
           369, [-0.0326, 0.1301], [-0.02, 0, 0.02, 0.04, 0.06, 0.08, 0.1, 0.12],
           [-0.03, -0.02, -0.01, 0, 0.01, 0.02, 0.03, 0.04, 0.05, 0.06, 0.07, 0.08, 0.09, 0.1,
            0.11, 0.12, 0.13], 50,
           {"rect": [322, 481, 133.7, 6.1], "ydom": [-6.8, 7],
            "yvals": [-6, -4, -2, 0, 2, 4, 6], "tdx": -19},
           {"x0": 185, "x1": 193, "y0": 22, "y1": 100.3, "dx": 9, "fs": 19}, 55)

chart = alt.vconcat(pa, pb, pc, spacing=63, bounds="flush").resolve_scale(
    color="independent", shape="independent", x="independent", y="independent").properties(
    padding={"left": 0, "top": -16.5, "right": 0, "bottom": 0}, background="white").configure_view(
    stroke="#404040", strokeWidth=2).configure_axis(grid=False)

chart.save("out.html", embed_options={"renderer": "svg", "actions": False})
